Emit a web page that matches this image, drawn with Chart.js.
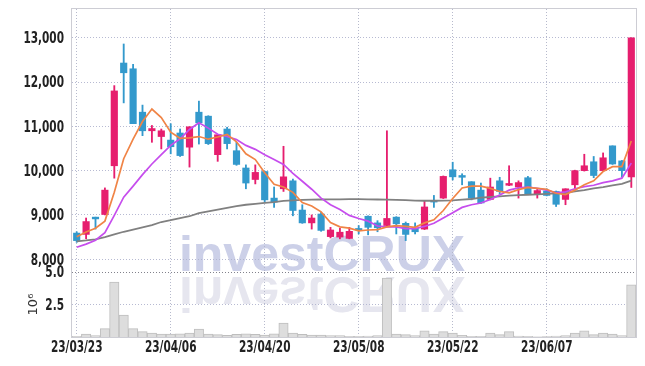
<!DOCTYPE html>
<html lang="ko">
<head>
<meta charset="UTF-8">
<title>investCRUX chart</title>
<style>
  html, body { margin: 0; padding: 0; background: #fff; }
  #wrap { width: 645px; height: 366px; }
</style>
</head>
<body>
<div id="wrap"><canvas id="chart" width="645" height="366"></canvas></div>
<script src="https://cdn.jsdelivr.net/npm/chart.js"></script>
<script>
// trading days
var dates = ['23/03/23','23/03/24','23/03/27','23/03/28','23/03/29','23/03/30','23/03/31','23/04/03','23/04/04','23/04/05',
             '23/04/06','23/04/07','23/04/10','23/04/11','23/04/12','23/04/13','23/04/14','23/04/17','23/04/18','23/04/19',
             '23/04/20','23/04/21','23/04/24','23/04/25','23/04/26','23/04/27','23/04/28','23/05/02','23/05/03','23/05/04',
             '23/05/08','23/05/09','23/05/10','23/05/11','23/05/12','23/05/15','23/05/16','23/05/17','23/05/18','23/05/19',
             '23/05/22','23/05/23','23/05/24','23/05/25','23/05/26','23/05/30','23/05/31','23/06/01','23/06/02','23/06/05',
             '23/06/07','23/06/08','23/06/09','23/06/12','23/06/13','23/06/14','23/06/15','23/06/16','23/06/19','23/06/20'];

var open  = [8590, 8560, 8950, 9010, 10110, 12430, 12300, 11320, 10900, 10770,
             10690, 10850, 10530, 11320, 11230, 10360, 10940, 10450, 10060, 9800,
             9980, 9380, 9590, 9770, 9110, 8820, 9020, 8510, 8500, 8470,
             8680, 8970, 8820, 8760, 8950, 8810, 8700, 8680, 9320, 9380,
             10020, 9890, 9750, 9560, 9350, 9770, 9670, 9630, 9840, 9470,
             9540, 9530, 9350, 9680, 10000, 10200, 10000, 10560, 10220, 9860];
var high  = [8620, 8930, 8950, 9610, 11920, 12860, 12400, 11480, 11020, 10940,
             11060, 10940, 10990, 11570, 11240, 10820, 10980, 10640, 10130, 10130,
             9990, 9630, 10550, 9810, 9230, 9000, 9060, 8720, 8700, 8720,
             8760, 8980, 8870, 10900, 8960, 8840, 8820, 9310, 9440, 9880,
             10190, 9930, 9750, 9720, 9830, 9850, 10110, 9770, 9870, 9590,
             9590, 9540, 9590, 10010, 10370, 10320, 10400, 10560, 10230, 13000];
var low   = [8380, 8460, 8680, 9000, 9830, 11530, 11060, 10790, 10640, 10490,
             10380, 10320, 10080, 10600, 10590, 10210, 10490, 10120, 9590, 9700,
             9300, 9170, 9530, 8980, 8810, 8680, 8630, 8480, 8460, 8460,
             8570, 8550, 8620, 8750, 8570, 8420, 8570, 8670, 9170, 9370,
             9790, 9680, 9340, 9260, 9340, 9470, 9660, 9380, 9470, 9380,
             9430, 9190, 9230, 9590, 9990, 9840, 9990, 10140, 9850, 9620];
var close = [8420, 8850, 8910, 9560, 11800, 12210, 11060, 10900, 10950, 10900,
             10540, 10340, 10990, 11080, 10610, 10810, 10610, 10140, 9720, 9960,
             9340, 9290, 9860, 9100, 8820, 8930, 8650, 8660, 8610, 8630,
             8660, 8720, 8710, 8920, 8800, 8560, 8620, 9180, 9290, 9870,
             9860, 9850, 9380, 9270, 9630, 9530, 9710, 9730, 9480, 9550,
             9440, 9240, 9590, 10000, 10110, 9890, 10290, 10150, 10000, 13000];

// volume, millions of shares
var volume = [0.05, 0.23, 0.10, 0.64, 4.23, 1.69, 0.64, 0.41, 0.31, 0.23,
              0.23, 0.25, 0.31, 0.61, 0.23, 0.18, 0.12, 0.20, 0.25, 0.20,
              0.15, 0.25, 1.08, 0.30, 0.20, 0.15, 0.15, 0.10, 0.10, 0.05,
              0.05, 0.08, 0.10, 4.54, 0.23, 0.18, 0.10, 0.48, 0.23, 0.41,
              0.31, 0.13, 0.05, 0.05, 0.31, 0.18, 0.41, 0.08, 0.05, 0.02,
              0.03, 0.08, 0.10, 0.31, 0.48, 0.18, 0.31, 0.23, 0.10, 4.02];

// moving average lines
var ma5  = [8505, 8615, 8700, 8860, 9510, 10270, 10710, 11110, 11390, 11200,
            10870, 10730, 10740, 10770, 10710, 10760, 10820, 10650, 10380, 10250,
            9950, 9690, 9630, 9510, 9280, 9200, 9070, 8830, 8730, 8700,
            8640, 8660, 8670, 8730, 8760, 8740, 8720, 8820, 8890, 9100,
            9370, 9610, 9650, 9650, 9600, 9530, 9500, 9570, 9620, 9600,
            9580, 9490, 9460, 9560, 9680, 9770, 9980, 10090, 10090, 10670];
var ma10 = [8270, 8340, 8430, 8600, 8990, 9400, 9650, 9910, 10150, 10360,
            10570, 10720, 10930, 11080, 10960, 10820, 10770, 10700, 10570, 10480,
            10360, 10250, 10140, 9940, 9760, 9580, 9380, 9230, 9120, 8990,
            8920, 8860, 8750, 8730, 8730, 8690, 8690, 8740, 8810, 8930,
            9050, 9170, 9230, 9270, 9350, 9450, 9560, 9610, 9630, 9600,
            9560, 9500, 9520, 9590, 9640, 9670, 9730, 9770, 9830, 10170];
var maLong = [8405, 8425, 8450, 8500, 8560, 8620, 8670, 8720, 8770, 8840,
              8880, 8930, 8970, 9040, 9080, 9120, 9160, 9200, 9230, 9250,
              9270, 9290, 9315, 9330, 9340, 9345, 9348, 9350, 9352, 9355,
              9355, 9352, 9348, 9345, 9340, 9335, 9325, 9320, 9320, 9322,
              9330, 9345, 9360, 9390, 9405, 9420, 9435, 9445, 9455, 9465,
              9475, 9485, 9500, 9530, 9560, 9600, 9630, 9665, 9700, 9775];

var priceTicks = [8000, 9000, 10000, 11000, 12000, 13000];
var volumeTicks = [2.5, 5.0];

var UP = '#e61e6e';
var DOWN = '#3399cc';
var candleColors = open.map(function (o, i) { return close[i] >= o ? UP : DOWN; });

var labelFont = { family: "'DejaVu Sans Condensed', sans-serif", size: 15, weight: 'bold' };
var hiddenText = 'rgba(0,0,0,0)';

var watermark = {
    id: 'watermark',
    beforeDraw: function (chart) {
        var ctx = chart.ctx;
        ctx.save();
        ctx.font = 'bold 50px "Liberation Sans", Arial, sans-serif';
        ctx.textAlign = 'center';
        ctx.textBaseline = 'alphabetic';
        ctx.fillStyle = 'rgb(204,208,232)';
        ctx.fillText('investCRUX', 322, 271);
        // mirrored copy underneath
        ctx.translate(0, 2 * 274);
        ctx.scale(1, -1);
        ctx.fillStyle = 'rgb(230,230,239)';
        ctx.fillText('investCRUX', 322, 271);
        ctx.restore();
    },
    afterDraw: function (chart) {
        var a = chart.chartArea, ctx = chart.ctx;
        ctx.save();
        ctx.strokeStyle = 'rgb(205,205,212)';
        ctx.lineWidth = 1;
        ctx.strokeRect(a.left - 0.5, a.top - 0.5, a.right - a.left + 1, a.bottom - a.top + 1);

        // tick labels in a narrow face: squeeze the condensed font horizontally
        var sx = 0.78;
        ctx.font = 'bold 15px "DejaVu Sans Condensed", sans-serif';
        ctx.fillStyle = '#222';
        ctx.scale(sx, 1);
        ctx.textBaseline = 'middle';
        ctx.textAlign = 'right';
        ['y', 'yv'].forEach(function (id) {
            var s = chart.scales[id];
            s.ticks.forEach(function (t) {
                ctx.fillText(t.label, (s.right - 8) / sx, s.getPixelForValue(t.value) + 1.5);
            });
        });
        var xs = chart.scales.x;
        ctx.textAlign = 'center';
        xs.ticks.forEach(function (t, i) {
            if (t.label) ctx.fillText(t.label, xs.getPixelForTick(i) / sx, xs.top + 11);
        });
        ctx.restore();
    }
};

function noEdgePadding(s) {
    s.paddingTop = 0; s.paddingBottom = 0; s.paddingLeft = 0; s.paddingRight = 0;
}

var ctx = document.getElementById('chart').getContext('2d');
var chart = new Chart(ctx, {
    type: 'bar',
    data: {
        labels: dates,
        datasets: [
            { type: 'line', data: ma5, borderColor: '#f08446', borderWidth: 1.7, pointRadius: 0, yAxisID: 'y', order: 0 },
            { type: 'line', data: ma10, borderColor: '#c64ded', borderWidth: 1.7, pointRadius: 0, yAxisID: 'y', order: 0 },
            { type: 'line', data: maLong, borderColor: '#808080', borderWidth: 1.8, pointRadius: 0, yAxisID: 'y', order: 0 },
            {
                data: low.map(function (l, i) { return [l, high[i]]; }),
                backgroundColor: candleColors, barThickness: 1.2, grouped: false, yAxisID: 'y', order: 2
            },
            {
                data: open.map(function (o, i) { return [o, close[i]]; }),
                backgroundColor: candleColors, barThickness: 6.5, minBarLength: 1.5, grouped: false, yAxisID: 'y', order: 1
            },
            {
                data: volume, backgroundColor: 'rgb(221,221,221)', borderColor: 'rgb(190,190,190)', borderWidth: 1,
                barPercentage: 1, categoryPercentage: 1, grouped: false, yAxisID: 'yv', order: 3
            }
        ]
    },
    options: {
        responsive: false,
        animation: false,
        events: [],
        layout: { padding: { top: 9, right: 9, left: 0, bottom: 0 } },
        plugins: { legend: { display: false }, tooltip: { enabled: false } },
        scales: {
            x: {
                offset: true,
                grid: {
                    offset: false, drawTicks: false,
                    color: 'rgba(175,178,200,0.9)'
                },
                border: { display: false, dash: [1, 2] },
                ticks: {
                    autoSkip: false, maxRotation: 0, padding: 3, color: hiddenText, font: labelFont,
                    callback: function (v, i) { return i % 10 === 0 ? dates[i] : null; }
                },
                afterFit: function (s) { s.height = 29; noEdgePadding(s); }
            },
            // left boxes are stacked in reverse order: volume first puts it at the bottom
            yv: {
                stack: 'main', stackWeight: 1,
                min: 0, max: 5,
                afterBuildTicks: function (s) { s.ticks = volumeTicks.map(function (v) { return { value: v }; }); },
                grid: {
                    drawTicks: false,
                    color: function (c) { return c.tick && c.tick.value === 5 ? 'rgb(130,130,140)' : 'rgba(175,178,205,0.9)'; }
                },
                border: { display: false, dash: [1, 2] },
                title: {
                    display: true, text: '10\u2076', color: '#333',
                    font: { family: "'DejaVu Sans', sans-serif", size: 13 },
                    padding: { top: 26, bottom: 0 }
                },
                ticks: {
                    padding: 8, color: hiddenText, font: labelFont,
                    callback: function (v) { return v.toFixed(1); }
                },
                afterFit: function (s) { s.width = 72; noEdgePadding(s); }
            },
            y: {
                stack: 'main', stackWeight: 4.05,
                min: 7710, max: 13650,
                afterBuildTicks: function (s) { s.ticks = priceTicks.map(function (v) { return { value: v }; }); },
                grid: { drawTicks: false, color: 'rgba(175,178,205,0.9)' },
                border: { display: false, dash: [1, 2] },
                ticks: {
                    padding: 8, color: hiddenText, font: labelFont,
                    callback: function (v) { return v.toLocaleString('en-US'); }
                },
                afterFit: function (s) { s.width = 72; noEdgePadding(s); }
            }
        }
    },
    plugins: [watermark]
});
</script>
</body>
</html>
